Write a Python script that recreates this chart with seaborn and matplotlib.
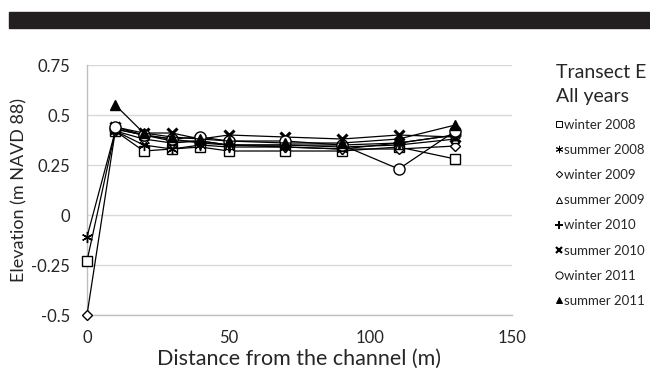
import matplotlib
matplotlib.use("Agg")
import matplotlib.pyplot as plt
from matplotlib.lines import Line2D
from matplotlib.patches import Rectangle
import pandas as pd
import seaborn as sns

# distance from the channel (m)
distance = [0, 10, 20, 30, 40, 50, 70, 90, 110, 130]

series_names = ["winter 2008", "summer 2008", "winter 2009", "summer 2009",
                "winter 2010", "summer 2010", "winter 2011", "summer 2011"]

# elevations (m NAVD 88); series with 9 values start at 10 m
winter_2008 = [-0.23, 0.42, 0.32, 0.33, 0.34, 0.32, 0.32, 0.32, 0.34, 0.28]
summer_2008 = [-0.11, 0.42, 0.35, 0.33, 0.35, 0.34, 0.34, 0.33, 0.36, 0.40]
winter_2009 = [-0.50, 0.42, 0.38, 0.36, 0.37, 0.35, 0.34, 0.33, 0.33, 0.345]
summer_2009 = [0.43, 0.40, 0.37, 0.37, 0.35, 0.35, 0.34, 0.35, 0.38]
winter_2010 = [0.43, 0.40, 0.38, 0.36, 0.35, 0.35, 0.35, 0.36, 0.40]
summer_2010 = [0.44, 0.41, 0.41, 0.38, 0.40, 0.39, 0.38, 0.40, 0.39]
winter_2011 = [0.44, 0.40, 0.38, 0.39, 0.37, 0.37, 0.35, 0.23, 0.42]
summer_2011 = [0.55, 0.41, 0.39, 0.38, 0.37, 0.36, 0.36, 0.38, 0.45]

values = [winter_2008, summer_2008, winter_2009, summer_2009,
          winter_2010, summer_2010, winter_2011, summer_2011]

# marker, face colour, size, edge width
styles = [
    ("s", "white", 7, 1.0),
    ((6, 2, 0), "black", 8, 1.0),
    ("D", "white", 5, 1.0),
    ("^", "white", 6, 1.0),
    ("+", "black", 8, 2.0),
    ("x", "black", 7, 2.2),
    ("o", "white", 8, 1.0),
    ("^", "black", 7, 1.0),
]


def main():
    sns.set_style("white")
    plt.rcParams["font.family"] = ["Lato", "DejaVu Sans"]

    fig = plt.figure(figsize=(6.5, 3.76), dpi=100)
    ax = fig.add_axes([0.1338, 0.1622, 0.6539, 0.6649])

    # black band on top
    fig.patches.append(Rectangle((9 / 650, 0.9255), 1, 0.0425, transform=fig.transFigure,
                                 color="#231f20", zorder=0))

    for name, vals, (mk, fc, ms, mew) in zip(series_names, values, styles):
        df = pd.DataFrame({"distance": distance[len(distance) - len(vals):], "elev": vals})
        sns.lineplot(data=df, x="distance", y="elev", ax=ax, color="black", lw=0.9,
                     marker=mk, markerfacecolor=fc, markeredgecolor="black",
                     markersize=ms, markeredgewidth=mew, legend=False, clip_on=False,
                     zorder=3)

    ax.set_xlim(0, 150)
    ax.set_ylim(-0.5, 0.75)
    ax.set_xticks([0, 50, 100, 150])
    ax.set_yticks([-0.5, -0.25, 0, 0.25, 0.5, 0.75])
    ax.set_yticklabels(["-0.5", "-0.25", "0", "0.25", "0.5", "0.75"])
    ax.yaxis.grid(True, color="#d9d9d9", lw=1)
    ax.xaxis.grid(False)
    for s in ["top", "right"]:
        ax.spines[s].set_visible(False)
    for s in ["left", "bottom"]:
        ax.spines[s].set_color("#bfbfbf")
        ax.spines[s].set_linewidth(1)
    ax.tick_params(axis="x", direction="in", length=5, color="#bfbfbf", labelsize=12, pad=11)
    ax.tick_params(axis="y", length=0, labelsize=12, pad=12)
    ax.set_xlabel("Distance from the channel (m)", fontsize=15.5, labelpad=2)
    ax.set_ylabel("Elevation (m NAVD 88)", fontsize=13, labelpad=3)

    # legend made of markers only
    handles = [Line2D([], [], ls="none", marker=mk, markerfacecolor=fc, markeredgecolor="black",
                      markersize=ms * 0.65, markeredgewidth=mew * 0.7)
               for mk, fc, ms, mew in styles]
    leg = ax.legend(handles, series_names, title="Transect E\nAll years", loc="upper left",
                    bbox_to_anchor=(1.075, 1.05), frameon=False, fontsize=9.5,
                    handlelength=0.5, handletextpad=0.15, labelspacing=1.0,
                    title_fontproperties={"size": 14})
    leg._legend_box.align = "left"
    leg.get_title().set_linespacing(1.5)

    fig.savefig("out.png", dpi=100)


if __name__ == "__main__":
    main()
